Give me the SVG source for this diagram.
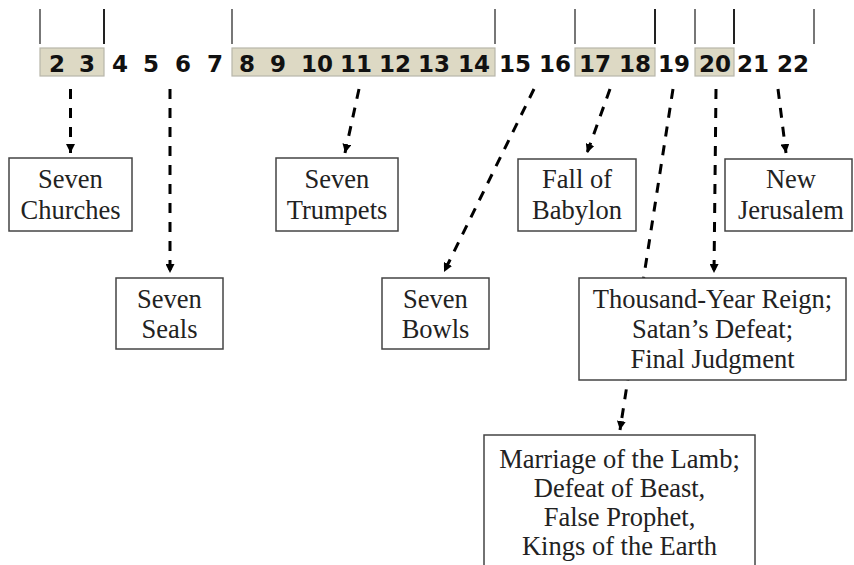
<svg xmlns="http://www.w3.org/2000/svg" width="854" height="565" viewBox="0 0 854 565">
<defs>
<marker id="ah" viewBox="0 0 10 10" refX="10" refY="5" markerWidth="3" markerHeight="3" orient="auto" markerUnits="strokeWidth">
<path d="M0,0 L10,5 L0,10 z" fill="#000"/>
</marker>
<style>
.tick{stroke:#555;stroke-width:1.6}
.tickd{stroke:#222;stroke-width:2}
.band{fill:#ddd9c4;stroke:#b8b6aa;stroke-width:1.2}
.num{font-family:"DejaVu Sans","Verdana",sans-serif;font-weight:bold;font-size:23px;fill:#111;text-anchor:middle}
.conn{fill:none;stroke:#000;stroke-width:3;stroke-dasharray:10 9;marker-end:url(#ah)}
.box{fill:#fff;stroke:#444;stroke-width:1.5}
.lbl{font-family:"Liberation Serif","Times New Roman",serif;font-size:26.5px;fill:#222;text-anchor:middle}
</style>
</defs>
<rect width="854" height="565" fill="#fff"/>
<g id="timeline">
<line class="tick" x1="40" y1="9" x2="40" y2="44"/>
<line class="tickd" x1="104" y1="9" x2="104" y2="44"/>
<line class="tick" x1="232" y1="9" x2="232" y2="44"/>
<line class="tick" x1="495" y1="9" x2="495" y2="44"/>
<line class="tick" x1="575" y1="9" x2="575" y2="44"/>
<line class="tickd" x1="655" y1="9" x2="655" y2="44"/>
<line class="tick" x1="695" y1="9" x2="695" y2="44"/>
<line class="tickd" x1="734" y1="9" x2="734" y2="44"/>
<line class="tick" x1="814" y1="9" x2="814" y2="44"/>
<rect class="band" x="40" y="48" width="64" height="28"/>
<rect class="band" x="232" y="48" width="263" height="28"/>
<rect class="band" x="575" y="48" width="80" height="28"/>
<rect class="band" x="695" y="48" width="39" height="28"/>
<text class="num" x="57" y="72">2</text>
<text class="num" x="87" y="72">3</text>
<text class="num" x="120" y="72">4</text>
<text class="num" x="151" y="72">5</text>
<text class="num" x="183" y="72">6</text>
<text class="num" x="215" y="72">7</text>
<text class="num" x="247" y="72">8</text>
<text class="num" x="278" y="72">9</text>
<text class="num" x="317" y="72">10</text>
<text class="num" x="356" y="72">11</text>
<text class="num" x="395" y="72">12</text>
<text class="num" x="434" y="72">13</text>
<text class="num" x="474" y="72">14</text>
<text class="num" x="515" y="72">15</text>
<text class="num" x="555" y="72">16</text>
<text class="num" x="595" y="72">17</text>
<text class="num" x="635" y="72">18</text>
<text class="num" x="674" y="72">19</text>
<text class="num" x="715" y="72">20</text>
<text class="num" x="753" y="72">21</text>
<text class="num" x="793" y="72">22</text>
</g>
<g id="connectors">
<line class="conn" x1="70.5" y1="89" x2="70.5" y2="153"/>
<line class="conn" x1="170" y1="89" x2="170" y2="273"/>
<line class="conn" x1="359" y1="89" x2="345" y2="153"/>
<line class="conn" x1="534" y1="89" x2="444" y2="272"/>
<line class="conn" x1="610" y1="89" x2="587" y2="153"/>
<line class="conn" x1="673" y1="89" x2="620" y2="430"/>
<line class="conn" x1="716" y1="89" x2="714" y2="273"/>
<line class="conn" x1="778" y1="89" x2="786" y2="153"/>
</g>
<g id="node-churches">
<rect class="box" x="9" y="158" width="123" height="73"/>
<text class="lbl" x="70.5" y="188">Seven</text>
<text class="lbl" x="70.5" y="219">Churches</text>
</g>
<g id="node-seals">
<rect class="box" x="116" y="278" width="107" height="71"/>
<text class="lbl" x="169.5" y="308">Seven</text>
<text class="lbl" x="169.5" y="338">Seals</text>
</g>
<g id="node-trumpets">
<rect class="box" x="276" y="158" width="122" height="73"/>
<text class="lbl" x="337" y="188">Seven</text>
<text class="lbl" x="337" y="219">Trumpets</text>
</g>
<g id="node-bowls">
<rect class="box" x="382" y="278" width="107" height="71"/>
<text class="lbl" x="435.5" y="308">Seven</text>
<text class="lbl" x="435.5" y="338">Bowls</text>
</g>
<g id="node-babylon">
<rect class="box" x="518" y="159" width="118" height="72"/>
<text class="lbl" x="577" y="188">Fall of</text>
<text class="lbl" x="577" y="219">Babylon</text>
</g>
<g id="node-jerusalem">
<rect class="box" x="725" y="159" width="127" height="72"/>
<text class="lbl" x="791" y="188">New</text>
<text class="lbl" x="791" y="219">Jerusalem</text>
</g>
<g id="node-reign">
<rect class="box" x="579" y="278" width="267" height="102"/>
<text class="lbl" x="712.5" y="308">Thousand-Year Reign;</text>
<text class="lbl" x="712.5" y="338">Satan’s Defeat;</text>
<text class="lbl" x="712.5" y="368">Final Judgment</text>
</g>
<g id="node-marriage">
<rect class="box" x="484" y="435" width="271" height="140"/>
<text class="lbl" x="619.5" y="468">Marriage of the Lamb;</text>
<text class="lbl" x="619.5" y="497">Defeat of Beast,</text>
<text class="lbl" x="619.5" y="526">False Prophet,</text>
<text class="lbl" x="619.5" y="555">Kings of the Earth</text>
</g>
</svg>
